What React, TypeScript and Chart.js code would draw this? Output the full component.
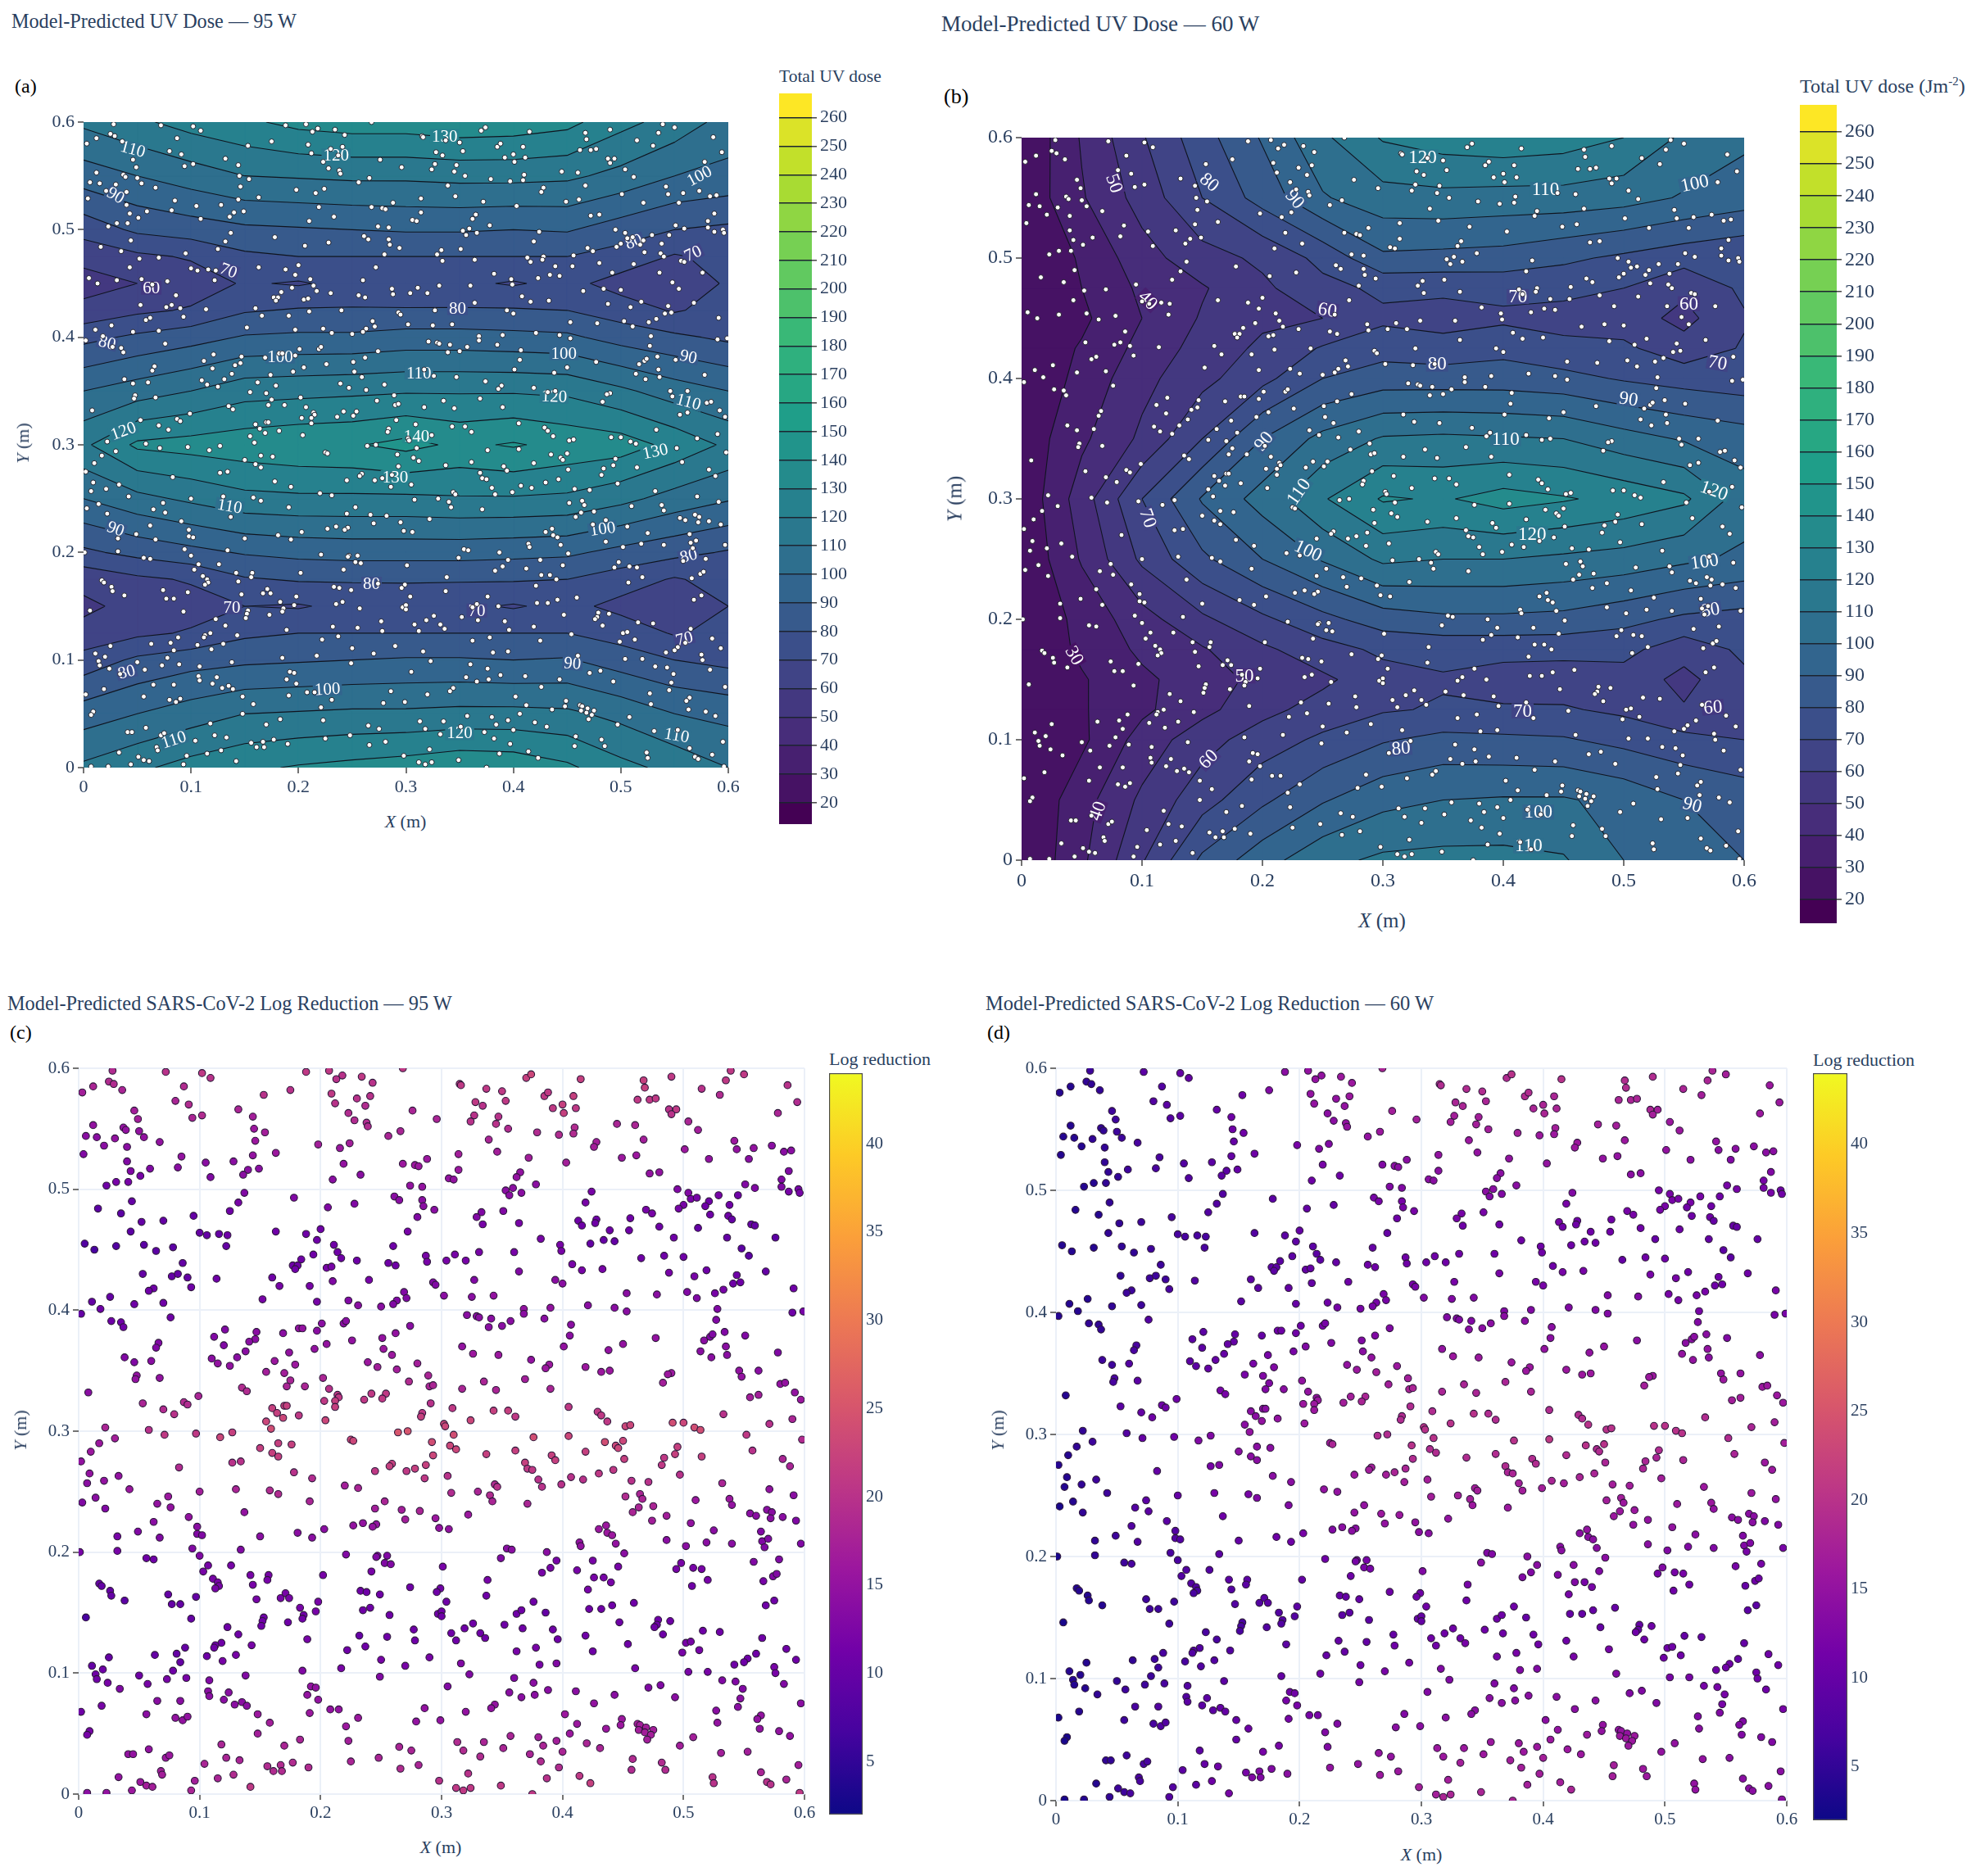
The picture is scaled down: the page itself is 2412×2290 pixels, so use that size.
import React, { useEffect, useRef } from 'react';
import { Chart, registerables } from 'chart.js';

Chart.register(...registerables);

const FONT = '"Liberation Serif", serif';
const NAVY = '#2a3f5f';

const tickLabels = ['0', '0.1', '0.2', '0.3', '0.4', '0.5', '0.6'];
const doseTicks = [20, 30, 40, 50, 60, 70, 80, 90, 100, 110, 120, 130, 140, 150, 160, 170, 180, 190, 200, 210, 220, 230, 240, 250, 260];
const logTicks = [5, 10, 15, 20, 25, 30, 35, 40];
const doseRange = [12.5, 268.5];
const logRange = [2, 44];

// dose surface, rows go from y = 0.6 down to y = 0
const gridX = [0, 0.05, 0.1, 0.15, 0.2, 0.25, 0.3, 0.35, 0.4, 0.45, 0.5, 0.55, 0.6];
const gridY = [0.6, 0.55, 0.5, 0.475, 0.45, 0.425, 0.4, 0.35, 0.3, 0.25, 0.2, 0.175, 0.15, 0.125, 0.1, 0.05, 0];
const dose95 = [
  [112, 118, 124, 128, 133, 135, 135, 137, 136, 133, 123, 116, 106],
  [95, 100, 105, 110, 111, 112, 112, 113, 113, 112, 107, 100, 97],
  [74, 82, 85, 88, 89, 90, 91, 91, 90, 91, 85, 80, 78],
  [63, 68, 71, 78, 80, 80, 80, 80, 80, 80, 76, 69, 73],
  [56, 60, 65, 71, 69, 73, 71, 72, 69, 73, 66, 65, 71],
  [63, 68, 71, 79, 81, 81, 81, 81, 81, 80, 75, 69, 74],
  [77, 82, 86, 91, 92, 92, 94, 94, 93, 92, 86, 82, 78],
  [100, 105, 110, 116, 117, 118, 119, 119, 119, 118, 112, 105, 100],
  [118, 132, 134, 136, 138, 139, 143, 138, 141, 137, 135, 127, 118],
  [100, 107, 112, 117, 118, 118, 118, 119, 119, 118, 113, 106, 101],
  [78, 83, 87, 91, 93, 94, 94, 94, 93, 92, 87, 83, 79],
  [63, 68, 71, 79, 81, 81, 81, 81, 81, 80, 75, 69, 74],
  [58, 63, 66, 70, 69, 73, 74, 72, 69, 73, 67, 64, 70],
  [63, 68, 71, 78, 80, 80, 80, 80, 80, 80, 76, 69, 73],
  [74, 82, 86, 88, 89, 90, 91, 91, 90, 91, 85, 80, 77],
  [95, 100, 105, 110, 111, 112, 112, 113, 113, 112, 107, 100, 97],
  [112, 118, 124, 128, 131, 133, 135, 138, 137, 132, 123, 117, 110],
];
const dose60 = [
  [20, 41, 59, 76, 91, 108, 121, 125, 127, 125, 120, 108, 102],
  [22, 39, 54, 70, 84, 99, 106, 107, 106, 106, 104, 99, 95],
  [22, 31, 46, 56, 62, 73, 88, 87, 86, 82, 78, 74, 71],
  [23, 30, 42, 49, 58, 67, 72, 72, 73, 73, 70, 62, 72],
  [23, 28, 40, 51, 58, 60, 68, 66, 68, 66, 65, 57, 69],
  [22, 31, 43, 54, 62, 71, 76, 74, 77, 73, 72, 64, 71],
  [21, 33, 47, 57, 67, 80, 85, 85, 85, 83, 79, 76, 74],
  [23, 38, 52, 70, 90, 103, 111, 112, 111, 110, 104, 99, 95],
  [22, 45, 70, 91, 104, 119, 131, 129, 134, 131, 127, 122, 105],
  [21, 41, 62, 78, 90, 101, 112, 110, 110, 108, 106, 102, 98],
  [21, 33, 46, 58, 68, 77, 85, 88, 88, 87, 83, 78, 76],
  [21, 32, 42, 49, 58, 66, 72, 73, 73, 73, 73, 64, 72],
  [21, 29, 38, 45, 53, 58, 66, 69, 66, 65, 66, 57, 68],
  [21, 29, 38, 47, 57, 64, 69, 71, 71, 71, 68, 61, 66],
  [21, 28, 44, 56, 65, 72, 79, 83, 82, 81, 77, 73, 70],
  [20, 36, 52, 66, 78, 89, 97, 100, 101, 101, 97, 90, 86],
  [20, 38, 59, 82, 96, 107, 112, 113, 113, 111, 100, 92, 90],
];

// contour label: x, y, text, angle
const labels95: [number, number, string, number][] = [
  [0.046, 0.575, '110', 15], [0.336, 0.587, '130', 0], [0.235, 0.569, '120', 0], [0.573, 0.55, '100', -28],
  [0.03, 0.532, '90', 30], [0.512, 0.489, '80', -20], [0.567, 0.478, '70', -25], [0.135, 0.462, '70', 20],
  [0.063, 0.446, '60', 0], [0.348, 0.427, '80', 0], [0.022, 0.395, '80', 15], [0.183, 0.382, '100', 0],
  [0.447, 0.385, '100', 0], [0.563, 0.382, '90', 12], [0.312, 0.367, '110', 0], [0.438, 0.345, '120', 2],
  [0.563, 0.34, '110', 15], [0.037, 0.313, '120', -20], [0.31, 0.308, '140', 0], [0.532, 0.294, '130', -12],
  [0.29, 0.27, '130', 0], [0.136, 0.243, '110', 10], [0.483, 0.222, '100', -8], [0.03, 0.222, '90', 20],
  [0.563, 0.197, '80', -15], [0.268, 0.171, '80', 0], [0.138, 0.149, '70', 0], [0.366, 0.146, '70', 0],
  [0.559, 0.12, '70', -15], [0.04, 0.089, '80', -15], [0.455, 0.097, '90', 5], [0.227, 0.073, '100', -3],
  [0.084, 0.026, '110', -18], [0.35, 0.032, '120', 0], [0.552, 0.03, '110', 10],
];
const labels60: [number, number, string, number][] = [
  [0.333, 0.584, '120', 0], [0.435, 0.557, '110', 0], [0.559, 0.562, '100', -12], [0.077, 0.562, '50', 70],
  [0.156, 0.563, '80', 40], [0.227, 0.549, '90', 50], [0.105, 0.465, '40', 45], [0.254, 0.457, '60', 10],
  [0.412, 0.468, '70', 0], [0.554, 0.462, '60', 0], [0.578, 0.413, '70', 10], [0.345, 0.412, '80', 0],
  [0.504, 0.383, '90', 8], [0.201, 0.348, '90', -50], [0.402, 0.35, '110', 0], [0.575, 0.307, '120', 20],
  [0.23, 0.306, '110', -55], [0.105, 0.284, '70', 70], [0.424, 0.271, '120', 0], [0.238, 0.257, '100', 25],
  [0.567, 0.248, '100', -8], [0.572, 0.208, '80', -10], [0.044, 0.17, '30', 60], [0.185, 0.153, '50', 0],
  [0.574, 0.127, '60', -5], [0.416, 0.124, '70', 0], [0.315, 0.093, '80', -5], [0.155, 0.084, '60', -45],
  [0.557, 0.046, '90', 15], [0.063, 0.041, '40', -70], [0.429, 0.04, '100', 0], [0.421, 0.012, '110', 0],
];

// sample points: x mm, y mm, log reduction at 95 W, log reduction at 60 W
const samplesTopLeft = [
  [28,598,19,6],[72,597,20,9],[102,596,21,10],[109,592,20,10],[188,597,21,14],[25,589,19,5],[29,587,19,5],[12,585,18,4],[3,580,17,4],[36,582,18,5],[87,585,19,8],[175,582,20,13],[153,578,20,11],[80,573,18,8],[91,570,19,9],[132,566,18,10],[46,565,17,6],[49,558,17,6],[94,559,18,8],[102,561,19,9],[144,560,17,11],[12,553,15,4],[37,551,15,5],[39,549,15,5],[50,548,15,6],[145,550,16,11],[154,547,17,11],[6,544,14,4],[15,543,14,4],[30,542,15,5],[54,543,15,6],[146,540,16,10],[67,539,15,7],[21,536,14,4],[40,535,14,5],[198,537,17,12],[4,529,13,4],[85,527,15,7],[144,528,15,10],[163,530,16,11],[40,523,13,5],[105,522,14,8],[128,523,14,9],[59,517,13,6],[82,518,14,7],[43,515,13,5],[149,517,14,10],[140,516,14,9],[136,512,14,9],[51,511,12,5],[109,510,13,8],[41,506,12,5],[31,506,12,4],[23,503,11,4],[137,497,13,8],[178,493,13,9],[44,490,10,5],[16,484,9,4],[132,489,12,8],[125,482,11,8],[35,480,9,4],[95,478,10,7],[52,473,10,5],[70,474,10,6],[163,465,11,8],[43,465,9,5],[100,464,10,7],[106,462,10,7],[116,463,10,7],[123,462,11,7],[188,463,11,9],[200,467,11,10],[5,455,8,4],[13,450,7,4],[31,453,8,4],[54,454,9,5],[78,452,9,6],[64,449,9,5],[122,453,10,7],[197,458,11,9],[194,446,11,9],[184,442,11,9],[177,437,11,9],[181,437,11,9],[179,434,11,9],[86,439,10,6],[53,430,10,5],[77,428,10,6],[82,430,10,6],[90,427,10,6],[114,426,11,8],[160,427,11,9],[166,420,12,9],[93,419,11,7],[191,420,12,10],[62,418,11,6],[58,416,11,6],[26,411,10,4],[11,407,10,4],[152,409,12,9],[70,406,11,6],[46,405,11,5],[197,407,12,10],[18,401,11,4],
];
const samplesTopMiddle = [
  [207,598,21,15],[218,594,20,15],[213,591,20,15],[234,593,21,16],[268,600,21,18],[243,588,20,16],[209,579,21,15],[230,575,20,15],[241,577,20,16],[212,571,20,15],[237,569,19,15],[223,563,19,14],[228,557,19,14],[238,555,19,15],[239,552,19,15],[276,565,18,17],[296,558,18,17],[266,548,18,16],[256,544,18,15],[224,538,17,13],[216,534,16,13],[219,521,15,12],[268,521,16,13],[278,520,16,14],[281,519,16,14],[288,525,16,14],[233,512,14,11],[210,508,14,11],[274,503,15,13],[284,502,15,13],[261,494,14,12],[265,491,14,12],[284,491,14,12],[285,486,14,12],[294,483,14,12],[228,488,13,10],[206,485,13,10],[280,477,13,11],[272,465,12,10],[211,454,11,9],[260,453,11,10],[214,448,11,9],[217,443,11,9],[287,445,12,11],[230,441,11,10],[256,439,11,11],[262,437,11,11],[288,440,12,11],[205,435,12,10],[209,436,12,10],[240,425,12,11],[210,424,13,10],[293,423,13,12],[295,421,13,12],[269,415,13,12],[271,410,13,12],[263,408,13,12],[260,405,13,12],[223,408,13,11],[231,404,14,12],[250,403,14,12],
  [315,587,21,19],[316,586,21,19],[337,583,21,19],[350,581,21,19],[370,592,22,19],[374,595,23,20],[353,573,21,18],[328,572,21,18],[334,569,20,18],[385,577,21,19],[388,580,21,19],[392,567,21,18],[400,570,22,18],[401,563,22,18],[327,561,20,17],[324,556,20,17],[347,560,20,17],[345,554,20,17],[355,550,19,17],[379,547,19,17],[397,545,19,16],[339,541,18,16],[346,531,17,15],[314,529,17,15],[372,526,17,15],[314,516,16,14],[365,514,15,14],[362,510,15,14],[306,509,15,14],[310,508,15,14],[378,504,14,14],[359,501,14,14],[353,499,14,14],[356,495,14,13],[366,497,14,13],[351,482,13,12],[333,481,13,12],[329,477,13,12],[364,472,12,11],[334,471,12,11],[382,459,12,11],[398,454,12,11],[399,449,12,11],[331,448,12,11],[360,448,12,11],[311,446,12,11],[304,441,12,11],[320,441,12,11],[364,432,13,12],[327,425,13,12],[394,425,14,12],[400,422,14,12],[302,412,14,13],[325,411,14,13],[343,412,15,13],[390,402,15,13],[368,401,15,13],
];
const samplesTopRight = [
  [415,591,22,20],[467,590,22,19],[468,584,22,19],[490,593,21,19],[409,577,22,18],[411,567,21,18],[462,574,21,18],[472,574,21,18],[477,575,21,18],[488,566,20,18],[494,566,21,17],[490,562,20,17],[410,551,19,17],[409,546,19,16],[445,554,18,17],[460,553,18,17],[467,541,17,16],[428,539,17,16],[426,535,17,16],[449,526,16,15],[461,528,16,15],[403,522,17,15],[472,513,15,14],[480,514,15,14],[501,533,16,15],[504,556,18,16],[512,549,17,16],[515,583,20,18],[530,578,19,17],[535,590,21,18],[539,598,21,18],[550,595,21,17],[586,586,20,16],[594,572,19,16],[578,563,18,16],[542,540,16,15],[544,533,15,14],[558,534,15,14],[573,536,14,14],[583,531,14,14],[589,532,14,14],[521,525,15,14],[554,525,14,13],[587,515,13,13],[581,508,13,12],[551,504,13,12],[559,501,13,12],[581,502,13,12],[587,498,12,12],[595,500,12,11],[596,497,12,11],[424,498,12,13],[419,489,12,12],[495,500,13,12],[504,497,13,12],[506,492,12,12],[511,493,12,12],[500,487,12,12],[496,484,12,12],[469,483,12,12],[474,480,12,12],[456,476,11,11],[428,475,11,11],[427,472,11,11],[413,474,11,12],[416,470,11,11],[439,466,11,11],[455,466,11,11],[480,469,11,11],[434,458,10,11],[443,457,10,11],[423,455,10,11],[492,460,11,10],[529,495,12,12],[545,495,11,11],[521,490,11,12],[518,486,11,11],[522,479,11,11],[538,487,11,11],[537,478,11,11],[540,475,10,10],[556,471,10,10],[559,470,10,10],[512,468,10,11],[536,460,10,10],[576,460,9,10],[548,451,9,9],[554,445,9,9],[465,443,11,10],[484,445,11,11],[500,444,11,11],[408,438,12,11],[416,433,12,12],[433,434,12,12],[488,431,12,12],[519,433,11,11],[509,428,12,12],[568,432,10,11],[544,429,11,11],[541,422,11,11],[547,423,11,11],[533,417,12,12],[526,414,12,12],[503,415,13,12],[511,410,13,12],[453,414,14,13],[478,413,14,13],[591,418,11,12],[421,404,14,13],[443,402,14,13],[453,399,14,13],[528,401,13,12],[590,398,11,12],[599,399,12,12],
];
const samplesMidLeft = [
  [2,397,10,4],[27,391,11,5],[35,390,11,5],[37,386,11,5],[76,394,11,8],[66,373,13,7],[64,369,13,7],[38,361,13,6],[46,357,13,6],[60,358,14,8],[48,346,15,7],[47,343,15,7],[67,344,15,9],[8,332,14,4],[53,323,18,9],[70,318,19,10],[79,314,20,11],[87,324,19,11],[90,322,19,11],[99,329,18,11],[22,303,18,5],[30,294,17,6],[17,290,16,5],[10,283,16,4],[2,275,15,4],[58,301,20,8],[71,297,21,10],[97,298,21,11],[83,270,19,10],[9,265,15,4],[7,257,14,4],[21,259,15,5],[33,263,15,6],[42,252,16,6],[14,245,14,4],[3,241,13,3],[22,236,13,5],[100,250,17,10],[74,246,16,9],[65,240,15,8],[76,237,15,9],[91,229,15,9],[62,225,14,8],[49,217,13,6],[98,221,14,8],[98,215,13,8],[102,214,13,8],[32,213,12,5],[67,212,13,8],[94,203,13,7],[1,200,12,3],[32,201,12,5],[134,202,13,9],[100,197,13,7],
  [121,384,13,9],[112,378,13,9],[147,382,14,10],[146,376,14,10],[141,374,14,10],[169,381,14,10],[182,385,15,11],[185,385,15,11],[197,383,14,11],[120,371,13,9],[138,366,14,10],[131,361,14,10],[110,360,14,9],[115,356,15,9],[125,354,15,10],[174,365,15,12],[195,368,15,12],[162,358,16,12],[179,355,16,13],[155,349,17,12],[170,348,17,13],[175,342,18,13],[172,337,18,13],[187,337,18,14],[135,336,19,12],[139,333,19,12],[160,319,22,14],[170,321,22,14],[172,321,22,14],[164,315,22,14],[169,311,23,15],[182,313,21,15],[155,308,23,14],[159,302,24,15],[127,299,22,13],[117,295,23,13],[165,290,22,14],[176,289,22,14],[150,286,22,14],[160,282,22,14],[165,279,22,14],[127,274,20,12],[134,275,20,13],[178,266,20,14],[193,261,19,14],[130,252,18,12],[158,251,19,12],[165,248,19,13],[191,242,18,13],[137,233,15,11],[150,213,14,10],[181,216,14,11],[193,212,14,11],
];
const samplesMidMiddle = [
  [201,389,14,11],[219,389,14,12],[221,391,14,12],[274,387,14,13],[205,372,15,13],[226,375,15,13],[262,381,15,13],[251,377,15,13],[252,368,16,14],[259,363,16,15],[239,357,16,15],[247,353,17,16],[263,351,17,17],[280,356,17,16],[289,346,18,17],[202,344,18,15],[273,341,19,17],[290,337,18,18],[293,338,18,18],[207,335,20,15],[242,331,21,17],[254,331,21,18],[251,327,21,18],[214,330,21,15],[215,328,21,16],[212,325,22,16],[212,320,22,16],[203,325,21,16],[236,326,21,17],[291,323,20,19],[204,309,23,16],[284,315,21,19],[283,312,22,19],[309,319,21,19],[324,309,23,20],[343,317,22,20],[355,317,22,19],[361,312,21,19],[302,306,23,20],[303,304,23,20],[264,299,25,19],[272,300,25,19],[310,297,24,20],[225,293,23,17],[227,292,23,18],[292,291,24,20],[307,288,23,19],[312,285,23,19],[293,280,23,19],[337,281,22,19],[361,284,22,19],[376,295,24,20],[391,280,22,19],[394,276,22,19],[369,274,22,19],[371,269,21,18],[375,268,21,18],[287,272,22,18],[259,273,22,17],[257,271,22,17],[245,267,21,16],[278,269,22,18],[271,267,21,17],[286,261,21,17],[305,263,20,17],[220,255,17,15],[231,253,18,15],[308,249,19,17],[330,250,18,17],[344,256,19,17],[346,254,20,17],[340,247,19,17],[342,242,18,16],[380,260,20,17],[383,254,20,17],[399,256,20,17],[371,240,18,16],[253,242,18,15],[245,236,17,15],[267,235,17,16],[282,234,18,16],[322,231,16,15],[270,227,17,15],[295,228,16,15],[298,220,15,14],[306,219,15,14],[227,222,15,13],[235,224,15,14],[246,223,15,14],[243,221,15,14],[203,219,14,12],[354,203,14,13],[358,202,14,13],[387,200,14,14],
  [321,396,14,13],[329,395,14,13],[331,394,14,13],[341,393,14,13],[339,386,14,14],[350,387,14,14],[357,391,14,14],[368,397,14,14],[385,393,14,14],[317,370,15,15],[326,364,16,16],[347,363,16,16],[374,359,15,16],[389,355,16,16],[386,352,16,16],[401,370,15,15],[369,343,17,18],[335,341,18,18],[317,335,18,18],[345,334,18,18],[390,335,18,18],
];
const samplesMidRight = [
  [407,388,14,14],[406,379,14,14],[477,377,15,14],[450,372,15,15],[438,367,15,15],[419,353,16,16],[432,349,16,16],[439,350,16,16],[490,348,16,16],[487,347,16,16],[483,340,17,17],[405,320,21,19],[429,316,21,19],[432,313,21,19],[437,308,21,20],[452,304,23,20],[456,305,23,20],[491,307,24,20],[500,307,23,20],[509,303,24,20],[514,301,24,20],[405,296,23,21],[435,291,24,20],[444,288,23,19],[446,286,23,19],[450,292,23,20],[419,283,22,19],[451,277,22,18],[495,287,22,19],[493,281,22,18],[484,278,21,18],[482,272,21,18],[515,279,22,18],[430,265,21,18],[442,268,21,18],[407,262,20,18],[417,260,20,17],[497,264,20,17],[457,259,20,17],[471,258,20,17],[532,257,18,16],[452,246,19,17],[464,248,18,17],[466,244,18,16],[475,238,18,16],[463,237,18,16],[458,233,18,16],[486,230,17,15],[474,226,17,15],[510,243,16,16],[538,244,16,16],[540,239,15,15],[506,224,15,15],[436,222,16,15],[430,219,16,14],[437,216,16,14],[441,214,16,14],[414,208,15,14],[415,205,15,14],[444,207,15,14],[451,199,14,14],[486,210,14,14],[502,205,14,13],[519,208,14,13],[525,218,14,14],[540,207,14,13],[564,217,13,13],[565,209,13,13],[570,211,13,13],[567,204,13,12],[555,232,14,14],[560,230,14,14],[569,235,14,14],[573,233,14,14],[572,228,14,14],[582,229,14,13],[593,226,13,13],[571,252,15,16],[591,247,14,15],[597,207,13,12],[552,297,21,19],[557,284,20,18],[582,277,18,16],[588,271,18,16],[598,293,19,17],[533,314,20,19],[571,306,20,18],[590,310,18,17],[555,328,17,17],[562,330,17,17],[580,339,15,16],[584,340,15,16],[592,332,15,16],[597,326,16,16],[546,350,15,15],[548,345,15,16],[562,350,14,15],[514,366,14,15],[523,361,14,15],[535,370,14,15],[536,363,14,14],[517,375,14,14],[522,378,13,14],[524,380,13,14],[534,382,13,14],[551,379,13,13],[578,365,13,14],[527,392,13,13],
];
const samplesLowLeft = [
  [56,195,11,6],[62,194,11,7],[107,189,12,8],[126,189,12,8],[103,184,12,8],[111,178,12,8],[115,175,12,8],[116,172,12,7],[113,170,12,7],[142,181,12,9],[157,181,12,9],[156,177,12,9],[144,173,12,8],[17,174,10,4],[19,172,10,4],[26,168,10,4],[27,164,10,4],[38,160,9,4],[74,165,10,6],[77,157,10,6],[84,157,10,6],[97,163,10,6],[93,145,10,6],[6,146,7,3],[147,161,12,8],[167,162,12,8],[171,166,12,9],[174,162,12,9],[183,154,12,8],[186,148,11,8],[185,145,11,8],[196,151,12,8],[198,159,12,9],[173,142,11,8],[153,146,11,7],[152,143,11,7],[151,139,11,7],[123,138,11,7],[132,132,11,7],[189,128,12,9],[118,125,11,8],[113,123,11,8],[112,121,11,8],[143,123,12,8],[88,121,10,7],[81,116,10,6],[84,109,10,6],[63,115,10,5],[25,113,10,4],[106,114,11,7],[130,115,12,8],[119,110,12,8],[11,106,10,4],[20,103,11,4],[78,102,11,6],[14,99,11,4],[15,95,11,4],[50,98,11,5],[73,95,12,6],[89,96,12,7],[57,91,12,6],[24,92,12,4],[34,87,13,5],[138,98,13,9],[185,102,13,10],[108,94,13,8],[107,85,14,8],[108,81,14,9],[124,84,14,9],[120,78,14,9],[129,74,14,9],[135,76,14,10],[139,73,14,10],[192,89,15,11],[196,88,15,11],[189,82,15,12],[198,78,15,12],[191,67,16,12],[65,77,14,7],[84,77,14,8],[19,73,12,4],[2,68,11,3],[56,66,14,6],[80,63,15,7],[86,61,15,8],[90,64,15,8],[148,66,16,10],[158,59,17,11],[9,52,12,3],[7,49,12,3],[148,50,17,10],[183,45,18,12],[118,41,18,9],[170,40,18,12],[58,37,15,6],[41,33,15,5],[45,33,15,5],[72,30,16,7],[75,32,16,7],[122,30,18,10],[133,28,18,11],[104,25,18,9],[156,23,19,12],[167,24,19,13],[177,26,19,13],[161,19,19,13],[168,19,19,13],[190,22,19,14],[68,19,17,7],[69,16,17,7],[33,14,15,4],[115,13,18,9],[128,16,19,11],[96,11,17,8],[51,10,16,6],[56,7,17,6],[61,6,17,7],[142,6,21,12],[93,3,18,8],[44,3,16,5],[7,1,14,3],[23,1,15,4],
];
const samplesLowMiddle = [
  [221,198,13,11],[247,197,13,12],[246,196,13,12],[255,197,13,12],[253,191,13,12],[258,190,13,12],[242,184,12,11],[202,181,12,10],[233,168,11,10],[238,167,11,10],[249,165,11,10],[274,171,11,11],[235,152,11,9],[241,154,11,9],[257,148,11,9],[232,131,10,10],[255,130,11,10],[277,136,11,10],[278,127,11,11],[237,122,11,10],[222,119,11,10],[250,111,12,11],[290,113,12,12],[270,106,12,12],[217,104,12,11],[249,97,13,12],
  [301,188,12,13],[349,195,13,14],[338,177,12,12],[299,170,11,11],[296,167,11,11],[337,164,11,11],[304,159,11,11],[297,149,11,10],[300,151,11,10],[300,147,11,10],[308,133,11,11],[312,127,11,11],[319,137,11,11],[326,141,11,11],[332,133,11,11],[336,129,11,12],[352,140,11,11],[376,159,11,11],[362,149,11,11],[366,152,11,11],[386,150,10,10],[367,137,11,11],[392,136,11,11],[396,128,11,11],[362,118,12,12],[378,121,12,12],[381,107,12,13],[395,108,13,13],[316,108,13,13],[323,99,13,13],[395,193,12,14],[390,187,12,13],[383,183,12,13],[305,89,13,13],[360,96,13,13],[376,92,14,13],[388,86,14,14],[356,84,14,14],[366,80,14,14],[377,82,14,14],[344,74,15,14],[341,71,15,14],[320,68,15,14],[299,61,15,14],[286,71,15,13],[279,60,15,14],[208,70,15,12],[215,70,15,12],[231,63,16,13],[221,56,16,13],[223,44,17,13],[225,27,18,15],[248,30,18,15],[265,39,18,15],[275,36,18,15],[281,24,18,16],[266,21,19,16],[313,43,19,16],[318,36,19,16],[335,43,18,16],[332,31,19,17],[351,38,18,16],[357,48,18,16],[322,17,20,17],[298,11,20,17],[312,5,21,17],[318,3,21,18],[324,5,21,18],[349,7,21,18],[375,0,21,18],[373,33,18,17],[380,47,17,16],[384,40,18,16],[395,44,17,16],[400,35,18,17],[382,27,19,17],[397,22,19,17],[387,13,20,17],[402,66,16,14],
];
const samplesLowRight = [
  [425,193,12,14],[412,185,12,13],[446,188,12,13],[426,179,12,13],[434,179,12,12],[440,175,12,12],[421,169,12,12],[422,153,11,10],[432,153,11,10],[441,156,11,10],[459,158,11,10],[447,142,11,10],[479,144,11,10],[478,140,11,10],[476,138,11,11],[489,143,11,11],[483,132,11,11],[419,131,11,11],[454,124,11,12],[425,118,11,12],[460,104,12,13],[494,186,12,12],[498,191,12,13],[508,187,12,12],[515,186,12,12],[520,177,12,11],[507,172,11,11],[558,192,13,12],[579,194,13,12],[566,176,12,10],[574,180,13,11],[577,182,13,11],[568,156,11,9],[575,160,11,9],[516,135,11,10],[530,134,11,10],[565,129,11,10],[502,125,12,11],[506,126,12,11],[499,117,12,11],[513,119,12,11],[585,120,11,11],[560,116,11,10],[553,112,11,11],[550,109,11,11],[542,107,11,11],[593,111,11,11],[575,105,12,11],[576,100,12,11],[504,101,12,12],[520,101,12,12],[532,94,13,12],[543,93,13,12],[549,87,13,12],[583,91,13,11],[547,79,14,12],[545,72,14,13],[597,75,14,12],[527,69,14,13],[528,59,15,14],[564,65,15,13],[561,62,15,13],[563,54,15,13],[579,52,15,13],[588,48,15,13],[508,47,17,15],[531,34,17,15],[553,35,17,14],[595,24,17,14],[564,18,18,14],[585,12,18,14],[524,14,20,15],[525,9,20,15],[569,10,20,14],[572,8,20,14],[596,1,21,14],
  [471,88,13,13],[481,90,13,13],[493,80,14,13],[443,82,14,14],[411,85,14,14],[426,75,15,14],[412,58,16,15],[406,50,16,16],[436,54,16,16],[449,62,16,15],[448,57,16,15],[462,58,17,15],[464,57,17,15],[463,53,17,16],[469,55,17,15],[475,53,17,16],[468,51,17,16],[473,49,17,16],[470,45,17,16],[420,42,18,16],[431,38,18,16],[497,40,17,15],[458,29,19,17],[457,20,19,17],[482,26,19,16],[485,20,19,16],[414,15,21,17],[423,9,22,18],
];
const allSamples = [
  ...samplesTopLeft, ...samplesTopMiddle, ...samplesTopRight,
  ...samplesMidLeft, ...samplesMidMiddle, ...samplesMidRight,
  ...samplesLowLeft, ...samplesLowMiddle, ...samplesLowRight,
];

const viridisStops = ['#440154', '#482878', '#3e4989', '#31688e', '#26828e', '#1f9e89', '#35b779', '#6ece58', '#b5de2b', '#fde725'];
const plasmaStops = ['#0d0887', '#46039f', '#7201a8', '#9c179e', '#bd3786', '#d8576b', '#ed7953', '#fb9f3a', '#fdca26', '#f0f921'];

function rampColor(stops: string[], t: number) {
  const p = Math.min(Math.max(t, 0), 1) * (stops.length - 1);
  const i = Math.min(Math.floor(p), stops.length - 2);
  const f = p - i;
  const rgb = (s: string) => [1, 3, 5].map(k => parseInt(s.slice(k, k + 2), 16));
  const a = rgb(stops[i]);
  const b = rgb(stops[i + 1]);
  return `rgb(${a.map((v, k) => Math.round(v + (b[k] - v) * f)).join(',')})`;
}

const bandColor = (lo: number) => {
  const hi = lo + 10;
  const mid = lo < 20 ? doseRange[0] : hi > 260 ? doseRange[1] : lo + 5;
  return rampColor(viridisStops, (mid - doseRange[0]) / (doseRange[1] - doseRange[0]));
};
const logColor = (v: number) => rampColor(plasmaStops, (v - logRange[0]) / (logRange[1] - logRange[0]));

// region z >= level and contour pieces of each grid cell, split by null points
function traceLevel(rows: number[][], level: number) {
  const fill: any[] = [];
  const line: any[] = [];
  const gap = { x: null, y: null };
  for (let r = 0; r < gridY.length - 1; r++) {
    for (let c = 0; c < gridX.length - 1; c++) {
      const corners = [
        { x: gridX[c], y: gridY[r], z: rows[r][c] },
        { x: gridX[c + 1], y: gridY[r], z: rows[r][c + 1] },
        { x: gridX[c + 1], y: gridY[r + 1], z: rows[r + 1][c + 1] },
        { x: gridX[c], y: gridY[r + 1], z: rows[r + 1][c] },
      ];
      const crossings: any[] = [];
      const poly: any[] = [];
      corners.forEach((a, k) => {
        const b = corners[(k + 1) % 4];
        if (a.z >= level) poly.push({ x: a.x, y: a.y });
        if ((a.z >= level) !== (b.z >= level)) {
          const f = (level - a.z) / (b.z - a.z);
          const pt = { x: a.x + (b.x - a.x) * f, y: a.y + (b.y - a.y) * f };
          poly.push(pt);
          crossings.push(pt);
        }
      });
      if (poly.length > 2) fill.push(...poly, gap);
      for (let k = 0; k + 1 < crossings.length; k += 2) line.push(crossings[k], crossings[k + 1], gap);
    }
  }
  return { fill, line };
}

function contourDatasets(rows: number[][]) {
  const sets: any[] = [];
  const lines: any[] = [];
  const bands = [10, ...doseTicks];
  bands.forEach(lo => {
    const { fill, line } = traceLevel(rows, lo === 10 ? -1 : lo);
    if (!fill.length) return;
    const color = bandColor(lo);
    sets.push({
      type: 'scatter', data: fill, showLine: true, pointRadius: 0, fill: 'shape',
      backgroundColor: color, borderColor: color, borderWidth: 1, order: 1000 - lo,
    });
    if (lo !== 10) lines.push(...line);
  });
  sets.push({
    type: 'scatter', data: lines, showLine: true, pointRadius: 0, fill: false,
    borderColor: '#10141f', borderWidth: 1.1, order: 2, contourLines: true,
  });
  return sets;
}

const labelPlugin = (items: [number, number, string, number][], size: number) => ({
  id: 'contourLabels',
  afterDatasetDraw(chart: any, args: any) {
    if (!chart.data.datasets[args.index].contourLines) return;
    const { ctx, scales } = chart;
    ctx.save();
    ctx.font = `${size}px ${FONT}`;
    ctx.textAlign = 'center';
    ctx.textBaseline = 'middle';
    items.forEach(([x, y, text, angle]) => {
      ctx.save();
      ctx.translate(scales.x.getPixelForValue(x), scales.y.getPixelForValue(y));
      ctx.rotate((angle * Math.PI) / 180);
      const w = ctx.measureText(text).width + 4;
      ctx.fillStyle = bandColor(Number(text) - 10);
      ctx.fillRect(-w / 2, -size * 0.4, w, size * 0.8);
      ctx.fillStyle = '#fff';
      ctx.fillText(text, 0, 1);
      ctx.restore();
    });
    ctx.restore();
  },
});

const M = { left: 70, right: 30, top: 20, bottom: 50 };

function axis(size: number, gridColor: string, isX: boolean): any {
  return {
    type: 'linear', min: 0, max: 0.6,
    ticks: {
      stepSize: 0.1, autoSkip: false, maxRotation: 0, color: NAVY, padding: 4,
      font: { family: FONT, size },
      callback: (_v: any, i: number) => tickLabels[i],
    },
    grid: { color: gridColor, lineWidth: 2, tickColor: '#444', tickLength: 7, tickWidth: 1.5 },
    border: { display: false },
    afterFit: (s: any) => {
      if (isX) s.height = M.bottom;
      else s.width = M.left;
    },
  };
}

function plotConfig(datasets: any[], size: number, gridColor: string, plugins: any[]) {
  return {
    type: 'scatter',
    data: { datasets },
    plugins,
    options: {
      animation: false, responsive: false, maintainAspectRatio: false, devicePixelRatio: 1,
      layout: { padding: { top: M.top, right: M.right, left: 0, bottom: 0 } },
      plugins: { legend: { display: false }, tooltip: { enabled: false }, title: { display: false } },
      scales: { x: axis(size, gridColor, true), y: axis(size, gridColor, false) },
    },
  };
}

const whitePoints = () => ({
  type: 'scatter',
  data: allSamples.map(s => ({ x: s[0] / 1000, y: s[1] / 1000 })),
  pointRadius: 3, pointBackgroundColor: '#fff', pointBorderColor: '#15151f', pointBorderWidth: 0.9, order: 0,
});

const logPoints = (col: number) => ({
  type: 'scatter',
  data: allSamples.map(s => ({ x: s[0] / 1000, y: s[1] / 1000 })),
  pointRadius: 4.3, pointBackgroundColor: allSamples.map(s => logColor(s[col])),
  pointBorderColor: '#2b1738', pointBorderWidth: 1.1, order: 0,
});

function colorbarBase(range: number[], ticks: number[], size: number, grid: any, datasets: any[]) {
  return {
    type: 'bar',
    data: { labels: [''], datasets },
    options: {
      animation: false, responsive: false, maintainAspectRatio: false, devicePixelRatio: 1,
      layout: { padding: { top: 1, bottom: 1, left: 1, right: 0 } },
      plugins: { legend: { display: false }, tooltip: { enabled: false } },
      scales: {
        x: { display: false, stacked: true },
        y: {
          position: 'right', min: range[0], max: range[1],
          afterBuildTicks: (s: any) => { s.ticks = ticks.map(value => ({ value })); },
          ticks: { autoSkip: false, color: NAVY, padding: 4, font: { family: FONT, size }, callback: (v: any) => String(v) },
          grid,
          border: { display: false },
          afterFit: (s: any) => { s.width = 60; s.paddingTop = 0; s.paddingBottom = 0; },
        },
      },
    },
  };
}

function doseColorbar(size: number) {
  const edges = [doseRange[0], ...doseTicks, doseRange[1]];
  const datasets = edges.slice(0, -1).map((lo, i) => ({
    data: [[lo, edges[i + 1]]], backgroundColor: bandColor(lo), borderWidth: 0, barPercentage: 1, categoryPercentage: 1,
  }));
  const grid = { z: 1, color: '#1c2430', lineWidth: 1.6, tickColor: '#444', tickLength: 6, tickWidth: 1.5 };
  return colorbarBase(doseRange, doseTicks, size, grid, datasets);
}

function logColorbar(size: number) {
  const datasets = [{
    data: [logRange], barPercentage: 1, categoryPercentage: 1, borderWidth: 1.5, borderColor: '#4a4a4a', borderSkipped: false,
    backgroundColor: (c: any) => {
      const a = c.chart.chartArea;
      if (!a) return plasmaStops[4];
      const g = c.chart.ctx.createLinearGradient(0, a.bottom, 0, a.top);
      plasmaStops.forEach((s, i) => g.addColorStop(i / (plasmaStops.length - 1), s));
      return g;
    },
  }];
  return colorbarBase(logRange, logTicks, size, { display: false, drawTicks: false }, datasets);
}

function ChartBox({ left, top, width, height, make }: { left: number; top: number; width: number; height: number; make: () => any }) {
  const ref = useRef<HTMLCanvasElement>(null);
  useEffect(() => {
    if (!ref.current) return;
    const chart = new Chart(ref.current, make());
    return () => chart.destroy();
  }, []);
  return <canvas ref={ref} width={width} height={height} style={{ position: 'absolute', left, top, width, height }} />;
}

function Plot({ x0, x1, y0, y1, make }: { x0: number; x1: number; y0: number; y1: number; make: () => any }) {
  return <ChartBox left={x0 - M.left} top={y0 - M.top} width={x1 - x0 + M.left + M.right} height={y1 - y0 + M.top + M.bottom} make={make} />;
}

function Bar({ x0, x1, y0, y1, make }: { x0: number; x1: number; y0: number; y1: number; make: () => any }) {
  return <ChartBox left={x0 - 1} top={y0 - 1} width={x1 - x0 + 61} height={y1 - y0 + 2} make={make} />;
}

function Txt({ x, y, size, color = NAVY, center, rotate, children }: any) {
  const t = `translate(${center ? '-50%' : '0'},-50%)${rotate ? ' rotate(-90deg)' : ''}`;
  return (
    <div style={{ position: 'absolute', left: x, top: y, transform: t, fontFamily: FONT, fontSize: size, color, whiteSpace: 'nowrap', lineHeight: 1 }}>
      {children}
    </div>
  );
}

const AXIS_X = <><i>X</i> (m)</>;
const AXIS_Y = <><i>Y</i> (m)</>;

export default function App() {
  return (
    <div style={{ position: 'absolute', left: 0, top: 0, width: 2412, height: 2290, background: '#fff', overflow: 'hidden' }}>
      <Plot x0={101.5} x1={889} y0={149} y1={937} make={() => plotConfig([...contourDatasets(dose95), whitePoints()], 22, 'rgba(0,0,0,0)', [labelPlugin(labels95, 21)])} />
      <Plot x0={1246.5} x1={2129} y0={167.5} y1={1050} make={() => plotConfig([...contourDatasets(dose60), whitePoints()], 24, 'rgba(0,0,0,0)', [labelPlugin(labels60, 23)])} />
      <Plot x0={96} x1={982} y0={1304} y1={2190} make={() => plotConfig([logPoints(2)], 21, '#ebf0f8', [])} />
      <Plot x0={1289} x1={2181} y0={1304} y1={2198} make={() => plotConfig([logPoints(3)], 21, '#ebf0f8', [])} />

      <Bar x0={951} x1={991} y0={114} y1={1006} make={() => doseColorbar(22)} />
      <Bar x0={2197} x1={2242} y0={127.5} y1={1127} make={() => doseColorbar(24)} />
      <Bar x0={1012} x1={1053} y0={1310} y1={2215} make={() => logColorbar(21)} />
      <Bar x0={2213} x1={2255} y0={1310} y1={2222} make={() => logColorbar(21)} />

      <Txt x={14} y={26} size={24.2}>Model-Predicted UV Dose — 95 W</Txt>
      <Txt x={1149} y={29} size={27}>Model-Predicted UV Dose — 60 W</Txt>
      <Txt x={9} y={1225} size={24.3}>Model-Predicted SARS-CoV-2 Log Reduction — 95 W</Txt>
      <Txt x={1203} y={1225} size={24.5}>Model-Predicted SARS-CoV-2 Log Reduction — 60 W</Txt>

      <Txt x={18} y={105} size={24} color="#000">(a)</Txt>
      <Txt x={1152} y={118} size={26} color="#000">(b)</Txt>
      <Txt x={12} y={1260} size={24} color="#000">(c)</Txt>
      <Txt x={1205} y={1260} size={24} color="#000">(d)</Txt>

      <Txt x={951} y={94} size={21.5}>Total UV dose</Txt>
      <Txt x={2197} y={105} size={24}>Total UV dose (Jm<sup style={{ fontSize: 15, lineHeight: 0 }}>-2</sup>)</Txt>
      <Txt x={1012} y={1293} size={22}>Log reduction</Txt>
      <Txt x={2213} y={1294} size={22}>Log reduction</Txt>

      <Txt x={495} y={1003} size={22} center>{AXIS_X}</Txt>
      <Txt x={1687} y={1123} size={25} center>{AXIS_X}</Txt>
      <Txt x={538} y={2255} size={22} center>{AXIS_X}</Txt>
      <Txt x={1735} y={2264} size={22} center>{AXIS_X}</Txt>

      <Txt x={28} y={541} size={22} center rotate>{AXIS_Y}</Txt>
      <Txt x={1165} y={609} size={25} center rotate>{AXIS_Y}</Txt>
      <Txt x={25} y={1746} size={22} center rotate>{AXIS_Y}</Txt>
      <Txt x={1218} y={1746} size={22} center rotate>{AXIS_Y}</Txt>
    </div>
  );
}
